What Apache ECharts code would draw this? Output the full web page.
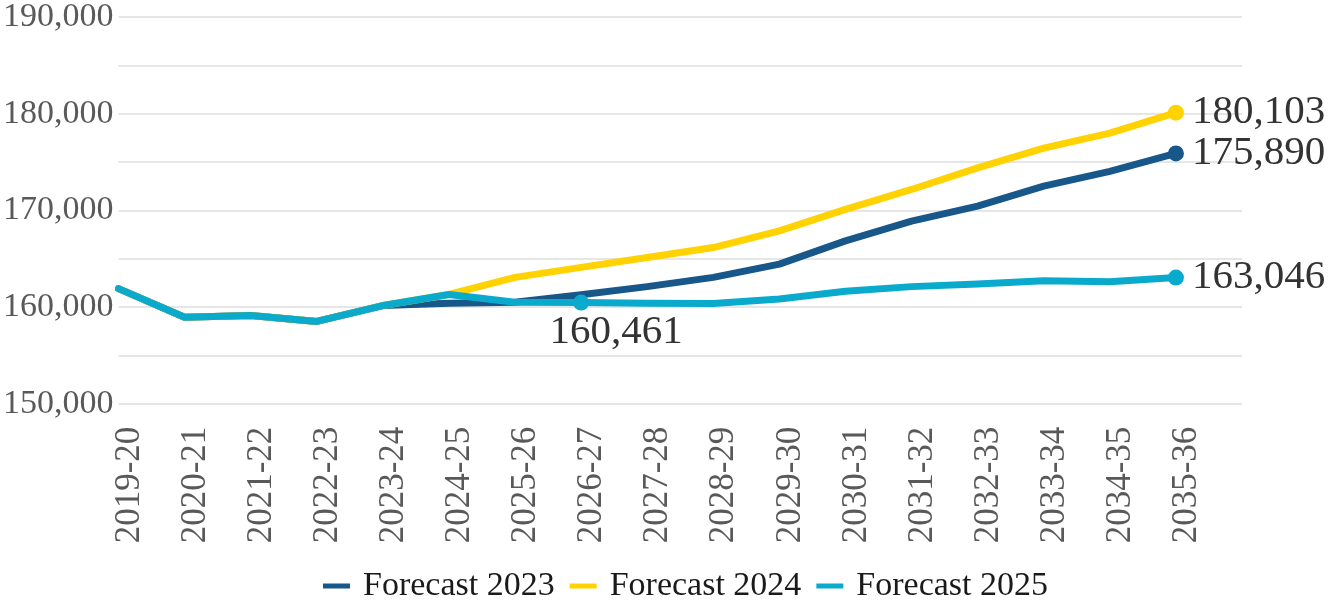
<!DOCTYPE html>
<html>
<head>
<meta charset="utf-8">
<script src="https://cdn.jsdelivr.net/npm/echarts@6/dist/echarts.min.js"></script>
<style>
  html, body { margin: 0; padding: 0; background: #fff; }
  #main { width: 1331px; height: 602px; }
</style>
</head>
<body>
<div id="main"></div>
<script>
// categories (financial years)
const years = ['2019-20', '2020-21', '2021-22', '2022-23', '2023-24', '2024-25', '2025-26', '2026-27',
  '2027-28', '2028-29', '2029-30', '2030-31', '2031-32', '2032-33', '2033-34', '2034-35', '2035-36']

// series values
const forecast2023 = [161900, 158950, 159130, 158510, 160150, 160400, 160500, 161260,
  162110, 163070, 164440, 166840, 168880, 170440, 172500, 174040, 175890]
const forecast2024 = [161900, 158950, 159130, 158510, 160150, 161300, 163070, 164100,
  165130, 166150, 167870, 170100, 172160, 174390, 176440, 177990, 180103]
const forecast2025 = [161900, 158950, 159130, 158510, 160150, 161300, 160500, 160461,
  160390, 160360, 160840, 161630, 162110, 162390, 162730, 162620, 163046]

// which points get a dot + label
const markedIdx2025 = [7, 16]

const fmt = v => Number(v).toLocaleString('en-US')

function withMarks(values, marked, extraLabel) {
  return values.map((v, i) => {
    if (marked.indexOf(i) === -1) return v
    const item = {
      value: v,
      symbol: 'circle',
      label: {
        show: true,
        position: 'right',
        distance: 8,
        formatter: p => fmt(p.value)
      }
    }
    if (extraLabel && extraLabel[i]) {
      Object.assign(item.label, extraLabel[i])
    }
    return item
  })
}

const chart = echarts.init(document.getElementById('main'))

const labelText = {
  fontFamily: 'Liberation Serif',
  fontSize: 41,
  color: '#333333'
}

function lineSeries(name, color, data) {
  return {
    name: name,
    type: 'line',
    data: data,
    symbol: 'none',
    symbolSize: 16,
    showAllSymbol: true,
    lineStyle: { width: 7, color: color, cap: 'round', join: 'round' },
    itemStyle: { color: color },
    label: Object.assign({ show: false }, labelText),
    emphasis: { disabled: true },
    z: 2
  }
}

chart.setOption({
  animation: false,
  textStyle: { fontFamily: 'Liberation Serif' },
  grid: {
    left: 117,
    right: 89,
    top: 14.7,
    bottom: 198.3,
    containLabel: false
  },
  legend: {
    left: 318,
    bottom: -6,
    icon: 'rect',
    itemWidth: 27,
    itemHeight: 5,
    itemGap: 15,
    textStyle: {
      fontFamily: 'Liberation Serif',
      fontSize: 34,
      color: '#1a1a1a',
      padding: [0, 0, 0, 8]
    },
    data: ['Forecast 2023', 'Forecast 2024', 'Forecast 2025']
  },
  xAxis: {
    type: 'category',
    data: years,
    boundaryGap: false,
    max: 17, // axis runs one slot past the last year
    axisLine: { show: false },
    axisTick: { show: false },
    splitLine: { show: false },
    axisLabel: {
      interval: 0,
      rotate: 90,
      margin: 23,
      verticalAlign: 'top',
      lineHeight: 22,
      fontFamily: 'Liberation Serif',
      fontSize: 35,
      color: '#595959',
      formatter: v => (v == null ? '' : v)
    }
  },
  yAxis: {
    type: 'value',
    min: 150000,
    max: 190000,
    interval: 5000,
    axisLine: { show: false },
    axisTick: { show: false },
    splitLine: { lineStyle: { color: '#dedede', width: 1.5 } },
    axisLabel: {
      margin: 5,
      fontFamily: 'Liberation Serif',
      fontSize: 34,
      color: '#595959',
      formatter: v => (v % 10000 === 0 ? fmt(v) : '')
    }
  },
  series: [
    lineSeries('Forecast 2023', '#17578A', withMarks(forecast2023, [16])),
    lineSeries('Forecast 2024', '#FFD200', withMarks(forecast2024, [16])),
    lineSeries('Forecast 2025', '#0AAACD', withMarks(forecast2025, markedIdx2025, {
      7: { position: 'bottom', distance: 5, offset: [35, -4] }
    }))
  ]
})
</script>
</body>
</html>
